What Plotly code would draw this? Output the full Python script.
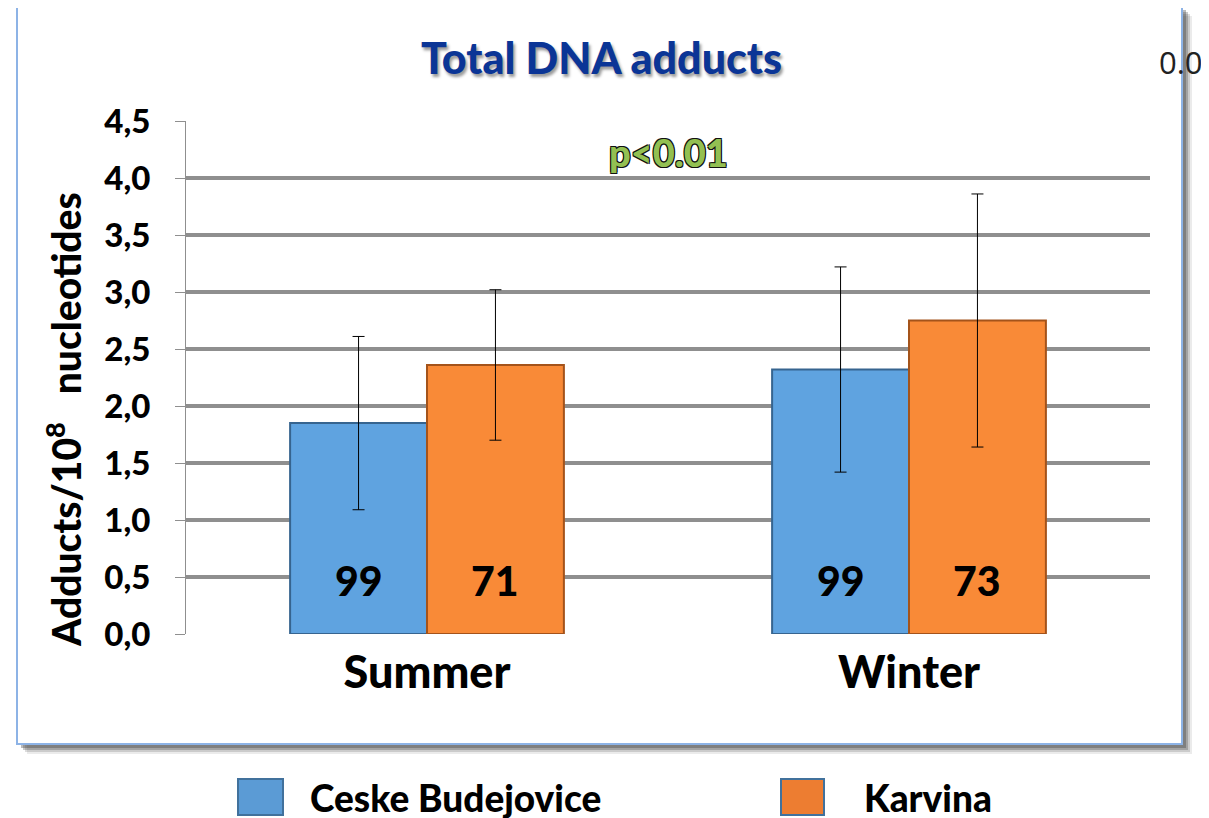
import plotly.graph_objects as go

seasons = ["Summer", "Winter"]
cb_values = [1.85, 2.32]
cb_errors = [0.76, 0.90]
karvina_values = [2.36, 2.75]
karvina_errors = [0.66, 1.11]
cb_n = ["99", "99"]
karvina_n = ["71", "73"]
y_ticks = [0.0, 0.5, 1.0, 1.5, 2.0, 2.5, 3.0, 3.5, 4.0, 4.5]

FW, FH = 1209, 818
OFF = 8  # page body margin
# plot area in screen pixels
L, R, T, B = 186, 1150, 121, 634
W, H = R - L, B - T


def px(x):
    return (x - L) / W


def py(y):
    return (B - y) / H


FONT = "Lato"
WT = 900
BLUE = "#5fa3e0"
ORANGE = "#f98a37"
BARGAP = 0.432


def f(size, color="black", family=FONT, weight=WT, **kw):
    d = dict(family=family, size=size, color=color, weight=weight)
    d.update(kw)
    return d


fig = go.Figure()
fig.add_trace(go.Bar(
    x=seasons, y=cb_values, name="Ceske Budejovice",
    marker=dict(color=BLUE, line=dict(color="#36648f", width=2)),
    error_y=dict(type="data", array=cb_errors, color="black", thickness=1, width=6),
))
fig.add_trace(go.Bar(
    x=seasons, y=karvina_values, name="Karvina",
    marker=dict(color=ORANGE, line=dict(color="#a4531a", width=2)),
    error_y=dict(type="data", array=karvina_errors, color="black", thickness=1, width=6),
))

annotations = []
off = (1 - BARGAP) / 4
for i in range(len(seasons)):
    annotations.append(dict(x=i - off, y=0.465, xref="x", yref="y", text=cb_n[i],
                            xanchor="center", yanchor="middle",
                            showarrow=False, font=f(41)))
    annotations.append(dict(x=i + off, y=0.465, xref="x", yref="y", text=karvina_n[i],
                            xanchor="center", yanchor="middle",
                            showarrow=False, font=f(41)))


def pa(x, y, text, font, xanchor="center", **kw):
    d = dict(x=px(x), y=py(y), xref="paper", yref="paper", text=text, showarrow=False,
             xanchor=xanchor, yanchor="middle", font=font)
    d.update(kw)
    return d


annotations.append(pa(601, 57, "Total DNA adducts",
                      f(43, "#0b3596", shadow="2px 3px 3px #9a9a9a")))
annotations.append(pa(1181, 62, "0.0", f(31, "#222", family="Open Sans", weight=400)))
annotations.append(pa(668, 152, "p<0.01",
                      f(38, "#93c052",
                        shadow="1px 1px 0 #111, -1px -1px 0 #111, 1px -1px 0 #111, -1px 1px 0 #111")))
annotations.append(pa(63, 420, "Adducts/10<sup>8</sup>\u00a0\u00a0\u00a0nucleotides",
                      f(39), textangle=-90))
annotations.append(pa(308, 797, "Ceske Budejovice", f(37), xanchor="left"))
annotations.append(pa(862, 797, "Karvina", f(37), xanchor="left"))

shapes = []
BL, BR, BT, BB = 17, 1182, 6, 744
for k, op in [(10, 0.10), (8, 0.18), (6, 0.28), (4, 0.35)]:
    shapes.append(dict(type="rect", xref="paper", yref="paper", layer="below",
                       x0=px(BL + k), x1=px(BR + k), y0=py(BB + k), y1=py(BT + k),
                       fillcolor=f"rgba(60,60,60,{op})", line=dict(width=0)))
shapes.append(dict(type="rect", xref="paper", yref="paper", layer="below",
                   x0=px(BL), x1=px(BR), y0=py(BB), y1=py(BT),
                   fillcolor="white", line=dict(color="#8db3e6", width=2)))
shapes.append(dict(type="rect", xref="paper", yref="paper", layer="below",
                   x0=px(483), x1=px(815), y0=py(3), y1=py(0),
                   fillcolor="#e4e4e4", line=dict(width=0)))
shapes.append(dict(type="rect", xref="paper", yref="paper",
                   x0=px(238), x1=px(283), y0=py(815), y1=py(779),
                   fillcolor="#5b9bd5", line=dict(color="#41719c", width=2)))
shapes.append(dict(type="rect", xref="paper", yref="paper",
                   x0=px(781), x1=px(824), y0=py(815), y1=py(779),
                   fillcolor="#ed7d31", line=dict(color="#41719c", width=2)))

fig.update_layout(
    width=FW, height=FH,
    margin=dict(l=L - OFF, r=FW - (R - OFF), t=T - OFF, b=FH - (B - OFF), pad=0),
    paper_bgcolor="white", plot_bgcolor="rgba(0,0,0,0)",
    barmode="group", bargap=BARGAP, bargroupgap=0,
    showlegend=False, separators=",.",
    annotations=annotations, shapes=shapes,
    xaxis=dict(showline=False, ticks="", showgrid=False,
               tickfont=f(45), ticklabelstandoff=8),
    yaxis=dict(range=[0, 4.5], tickvals=y_ticks,
               ticktext=[f"{v:.1f}".replace(".", ",") for v in y_ticks],
               showgrid=True, gridcolor="#8f8f8f", gridwidth=4,
               zeroline=False, showline=True, linecolor="#8f8f8f", linewidth=1,
               ticks="outside", ticklen=10, tickcolor="#8f8f8f",
               ticklabelstandoff=18,
               tickfont=f(33)),
)

fig.write_html("out.html")
